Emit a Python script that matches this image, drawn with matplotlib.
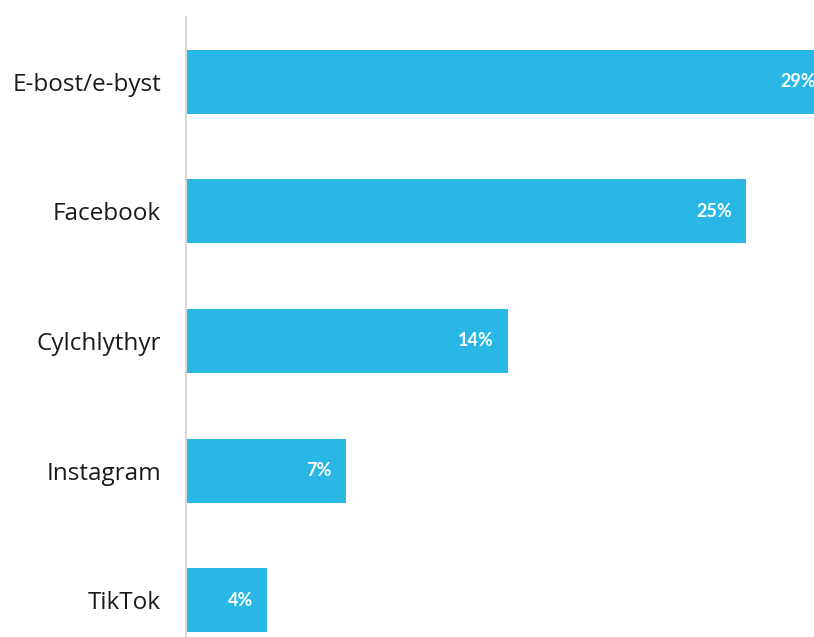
import matplotlib
matplotlib.use("Agg")
import matplotlib.pyplot as plt

categories = ["E-bost/e-byst", "Facebook", "Cylchlythyr", "Instagram", "TikTok"]
values = [28.6, 24.9, 14.3, 7.1, 3.6]

bar_color = "#29B8E6"

fig = plt.figure(figsize=(8.14, 6.37), dpi=100)
ax = fig.add_axes([186 / 814, -28 / 637, 675 / 814, 648 / 637])

y = list(range(len(categories)))
ax.barh(y, values, height=0.494, color=bar_color)
ax.set_xlim(0, 30)
ax.set_ylim(len(categories) - 0.5, -0.5)

for yi, v in zip(y, values):
    ax.annotate(f"{v:.0f}%", xy=(v, yi), xytext=(-10, 0), textcoords="offset points",
                ha="right", va="center", color="white", fontsize=13,
                fontweight="bold", family="Lato")

ax.set_yticks(y)
ax.set_yticklabels(categories, fontsize=17.5, family="Open Sans", color="#1a1a1a")
ax.tick_params(axis="y", length=0, pad=18)
ax.set_xticks([])
for s in ["top", "right", "bottom"]:
    ax.spines[s].set_visible(False)
ax.spines["left"].set_color("#d9d9d9")
ax.spines["left"].set_linewidth(1.5)

fig.savefig("out.png", dpi=100)
